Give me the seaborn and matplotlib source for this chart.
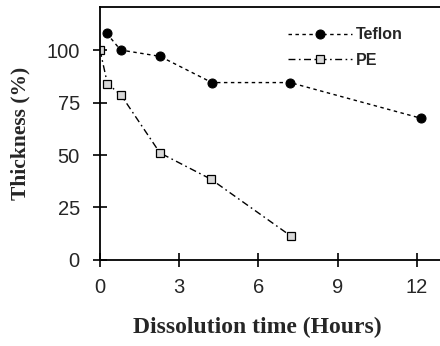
import matplotlib
matplotlib.use("Agg")
import matplotlib.pyplot as plt
import seaborn as sns
import pandas as pd

teflon_time = [0.25, 0.78, 2.27, 4.24, 7.2, 12.16]
teflon_thick = [108, 100, 97, 84.5, 84.5, 67.5]
pe_time = [0.0, 0.28, 0.8, 2.27, 4.2, 7.22]
pe_thick = [100, 84, 78.5, 51, 38.5, 11.5]
x_ticks = [0, 3, 6, 9, 12]
y_ticks = [0, 25, 50, 75, 100]

sns.set_style("white")
plt.rcParams['font.family'] = ['Liberation Sans', 'DejaVu Sans']

fig = plt.figure(figsize=(4.4, 3.46), dpi=100)
ax = fig.add_axes([0.2273, 0.2486, 0.7727, 0.7312])

df_t = pd.DataFrame({"t": teflon_time, "y": teflon_thick})
df_p = pd.DataFrame({"t": pe_time, "y": pe_thick})

sns.lineplot(data=df_t, x="t", y="y", ax=ax, color="black", lw=1.0,
             marker="o", markersize=6.5, markeredgecolor="black",
             markerfacecolor="black", label="Teflon", sort=False)
ax.lines[-1].set_dashes([2.5, 2.5])
sns.lineplot(data=df_p, x="t", y="y", ax=ax, color="black", lw=1.0,
             marker="s", markersize=6, markeredgecolor="black",
             markerfacecolor="#d8d8d8", markeredgewidth=0.9, label="PE", sort=False)
ax.lines[-1].set_dashes([5, 2.5, 1.2, 2.5])

ax.set_xlim(0, 12.88)
ax.set_ylim(0, 120.5)
ax.set_xticks(x_ticks)
ax.set_yticks(y_ticks)
ax.tick_params(axis="both", direction="inout", length=10, width=1.2,
               labelsize=14.5, color="black", bottom=True, left=True)
ax.tick_params(axis="x", pad=8)
ax.tick_params(axis="y", pad=9.5)
for s in ["left", "bottom", "top"]:
    ax.spines[s].set_color("black")
    ax.spines[s].set_linewidth(1.3)
ax.spines["right"].set_visible(False)

ax.set_xlabel("Dissolution time (Hours)", family=["Liberation Serif"],
              fontweight="bold", fontsize=17)
ax.set_ylabel("Thickness (%)", family=["Liberation Serif"],
              fontweight="bold", fontsize=15.5)
ax.xaxis.set_label_coords(0.462, -0.225)
ax.yaxis.set_label_coords(-0.205, 0.5)

leg = ax.legend(loc="upper right", bbox_to_anchor=(0.91, 0.945), frameon=False,
                fontsize=11.5, handlelength=4.0, handletextpad=0.25,
                labelspacing=0.65, borderaxespad=0)
for t in leg.get_texts():
    t.set_fontweight("bold")

fig.savefig("out.png", dpi=100)
